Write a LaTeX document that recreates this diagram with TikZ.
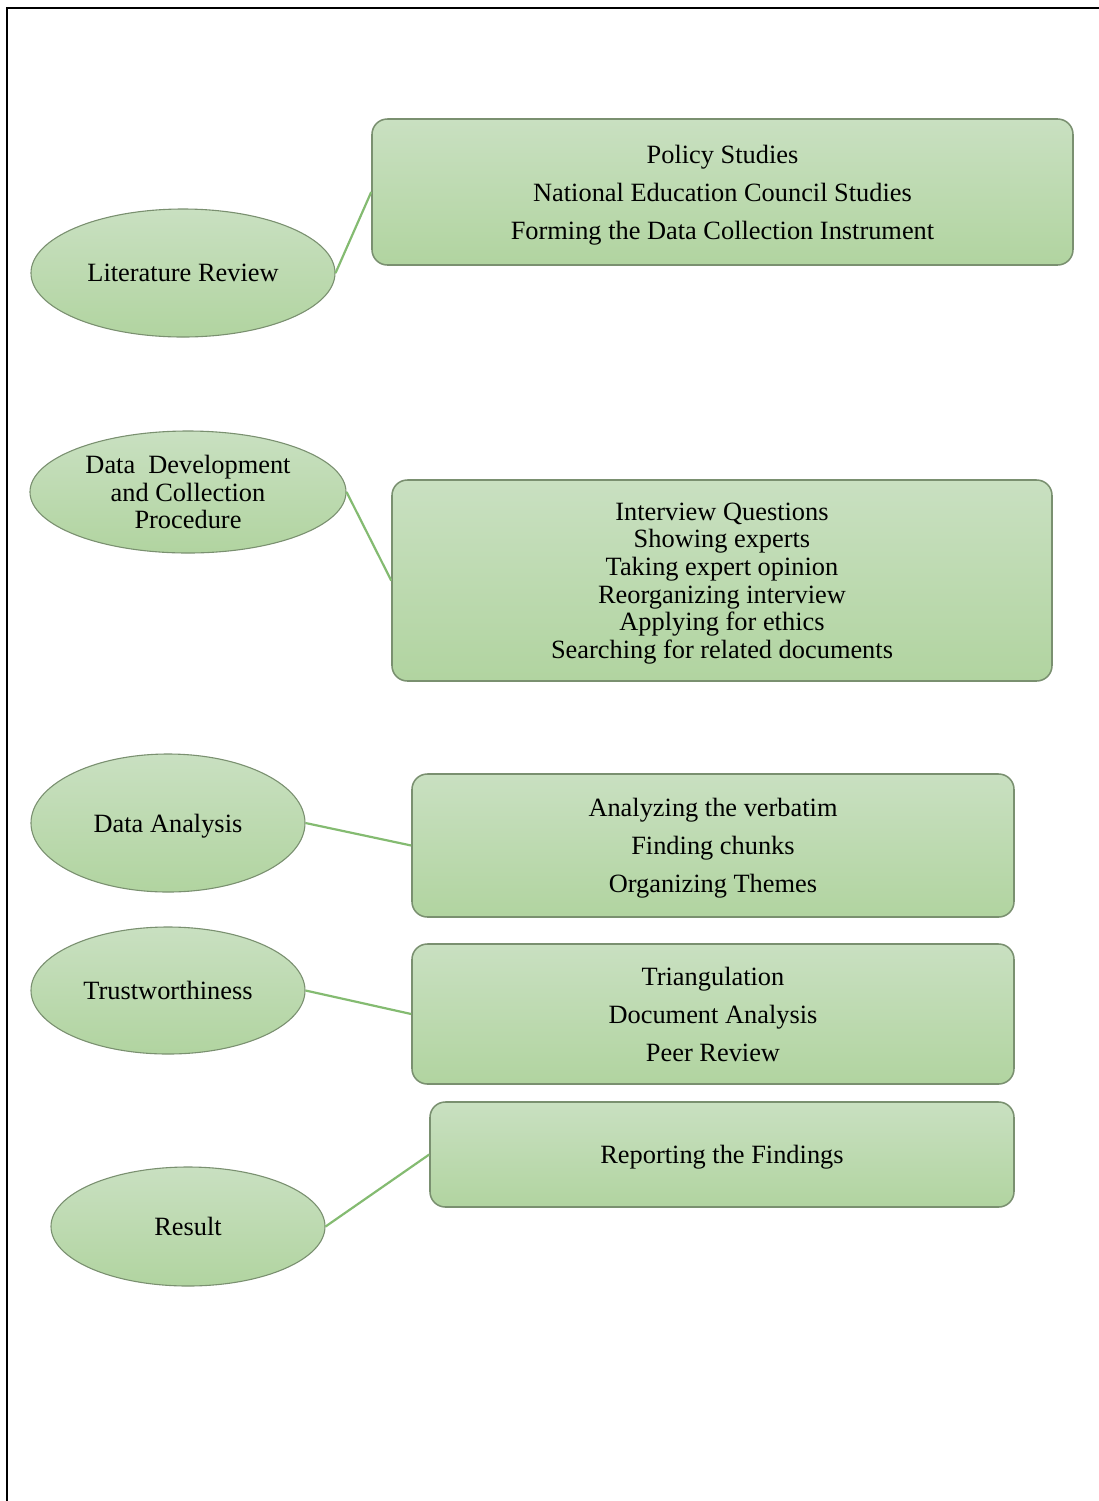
\documentclass[tikz,border=0pt]{standalone}
\usepackage{fontspec}
\setmainfont{Liberation Serif}
\usetikzlibrary{shapes.geometric}
\definecolor{greenTop}{HTML}{C9E0C1}
\definecolor{greenBot}{HTML}{B1D4A0}
\definecolor{edgeGray}{HTML}{7A9070}
\definecolor{linkGreen}{HTML}{84BB71}
\begin{document}
\begin{tikzpicture}[x=0.455pt,y=-0.455pt,
  stage/.style 2 args={ellipse, draw=edgeGray, line width=0.5pt,
    top color=greenTop, bottom color=greenBot, inner sep=0pt,
    minimum width=#1*0.455pt, minimum height=#2*0.455pt, text depth=0pt,
    align=center, font=\fontsize{12}{12.6}\selectfont},
  task/.style 2 args={rectangle, rounded corners=7pt, draw=edgeGray, line width=0.7pt,
    top color=greenTop, bottom color=greenBot, inner sep=0pt,
    minimum width=#1*0.455pt, minimum height=#2*0.455pt, text depth=0pt, align=center},
  wide/.style={font=\fontsize{12}{17.3}\selectfont},
  tight/.style={font=\fontsize{12}{12.6}\selectfont},
  link/.style={draw=linkGreen, line width=1pt}]
\useasboundingbox (0,0) rectangle (1099,1501);
\draw[line width=1pt] (1099,8) -- (7,8) -- (7,1501);

\node[stage={304}{128}] (litrev) at (183,273) {Literature Review};
\node[task={701}{146}, wide] (litbox) at (722.5,192)
  {Policy Studies\\National Education Council Studies\\Forming the Data Collection Instrument};

\node[stage={316}{122}] (datadev) at (188,492) {Data~~Development\\and Collection\\Procedure};
\node[task={660}{201}, tight] (devbox) at (722,580.5)
  {Interview Questions\\Showing experts\\Taking expert opinion\\Reorganizing interview\\Applying for ethics\\Searching for related documents};

\node[stage={274}{138}] (analysis) at (168,823) {Data Analysis};
\node[task={602}{143}, wide] (anbox) at (713,845.5)
  {Analyzing the verbatim\\Finding chunks\\Organizing Themes};

\node[stage={274}{127}] (trust) at (168,990.5) {Trustworthiness};
\node[task={602}{140}, wide] (trbox) at (713,1014)
  {Triangulation\\Document Analysis\\Peer Review};

\node[stage={274}{119}] (result) at (188,1226.5) {Result};
\node[task={584}{105}, wide] (resbox) at (722,1154.5) {Reporting the Findings};

\draw[link] (litrev.east) -- (litbox.west);
\draw[link] (datadev.east) -- (devbox.west);
\draw[link] (analysis.east) -- (anbox.west);
\draw[link] (trust.east) -- (trbox.west);
\draw[link] (result.east) -- (resbox.west);
\end{tikzpicture}
\end{document}
